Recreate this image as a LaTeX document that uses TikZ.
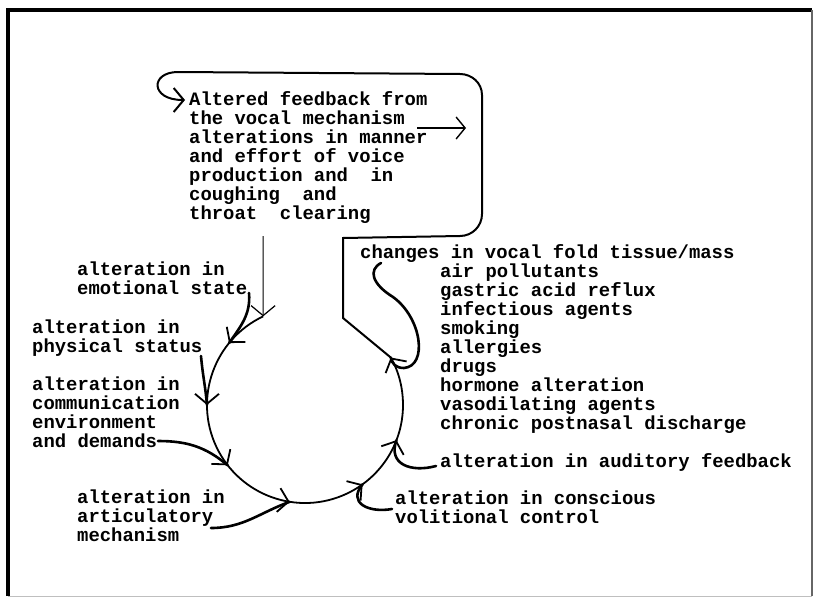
\documentclass[tikz,border=0pt]{standalone}
\usepackage{fontspec}
\newfontfamily\typewriter{Liberation Mono Bold}
\usetikzlibrary{arrows.meta,calc,decorations.markings}

\tikzset{
  barbtip/.tip={Straight Barb[length=10pt,width=24pt]},
  lbl/.style={font=\typewriter\fontsize{18.9}{19}\selectfont, align=left, inner sep=0pt, anchor=base west},
  feed/.style={line width=2.6pt, line cap=round},
  ring/.style={line width=1.8pt, decoration={markings,
      mark=at position 0.0932 with {\arrow{barbtip}},
      mark=at position 0.2364 with {\arrow{barbtip}},
      mark=at position 0.3752 with {\arrow{barbtip}},
      mark=at position 0.5323 with {\arrow{barbtip}},
      mark=at position 0.6967 with {\arrow{barbtip}},
      mark=at position 0.8173 with {\arrow{barbtip}}},
    postaction={decorate}}
}

\begin{document}
\begin{tikzpicture}[x=1pt,y=1pt]
        \useasboundingbox (0,0) rectangle (813,-597);
        % frame
        \draw [line width=4pt] (8,-596) -- (8,-10) -- (812,-10);
        \draw [line width=1.2pt, black!60] (812,-10) -- (812,-596);
        \draw [line width=0.8pt, black!25] (812,-596) -- (8,-596);

        % labels (placed at the baseline of their last line)
        \node [lbl] (feedback) at (189,-219) {Altered feedback from\\the vocal mechanism\\alterations in manner\\and effort of voice\\production and~ in\\coughing~ and\\throat~ clearing};
        \node [lbl] (emotion) at (77,-294) {alteration in\\emotional state};
        \node [lbl] (physical) at (32,-352) {alteration in\\physical status};
        \node [lbl] (environ) at (32,-447) {alteration in\\communication\\environment\\and demands};
        \node [lbl] (artic) at (77,-541) {alteration in\\articulatory\\mechanism};
        \node [lbl] (tissue) at (360,-258) {changes in vocal fold tissue/mass};
        \node [lbl] (causes) at (440,-429) {air pollutants\\gastric acid reflux\\infectious agents\\smoking\\allergies\\drugs\\hormone alteration\\vasodilating agents\\chronic postnasal discharge};
        \node [lbl] (auditory) at (440,-467) {alteration in auditory feedback};
        \node [lbl] (volition) at (395,-523) {alteration in conscious\\volitional control};

        % the circle
        \coordinate (c) at (305,-405);
        \coordinate (a0) at ($(c)+(115.3:98)$);
        \coordinate (a1) at ($(c)+(140.8:98)$);
        \coordinate (a2) at ($(c)+(180:98)$);
        \coordinate (a3) at ($(c)+(218:98)$);
        \coordinate (a4) at ($(c)+(261:98)$);
        \coordinate (a5) at ($(c)+(306:98)$);
        \coordinate (a6) at ($(c)+(339:98)$);
        \coordinate (a7) at ($(c)+(29:98)$);
        \draw [ring, -barbtip] (a0) arc [start angle=115.3, end angle=389, radius=98];

        % box outline back to the feedback text
        \coordinate (hook) at (185,-100);
        \draw [line width=2pt, -barbtip] (a7) -- (343,-318) -- (343,-238) -- (460,-236)
              to[out=0,in=-90] (482,-214) -- (482,-95) to[out=90,in=0] (460,-74)
              -- (178,-72) .. controls (150,-72) and (150,-100) .. (hook);
        \coordinate (flowa) at (417,-128);
        \coordinate (flowb) at (466,-128);
        \draw [line width=1.4pt, -{Straight Barb[length=9pt,width=22pt]}] (flowa) -- (flowb);
        \coordinate (drop) at (263.1,-236);
        \draw [line width=1.2pt, -barbtip] (drop) -- (a0);

        % influences joining the circle
        \coordinate (emoend) at (249,-293);
        \coordinate (physend) at (201,-356);
        \coordinate (envend) at (158,-441);
        \coordinate (articend) at (211,-528);
        \coordinate (volend) at (392,-509);
        \coordinate (audend) at (436,-466);
        \coordinate (tissend) at (381,-263);
        \draw [feed] (emoend) to[out=-85,in=55] (a1);
        \draw [feed] (physend) to[out=-85,in=95] (a2);
        \draw [feed] (envend) to[out=0,in=140] (a3);
        \draw [feed] (articend) to[out=0,in=200] (a4);
        \draw [feed] (volend) to[out=190,in=230,looseness=1.6] (a5);
        \draw [feed] (audend) to[out=195,in=250,looseness=1.4] (a6);
        \draw [feed] (tissend) .. controls (368,-270) and (372,-284) .. (393,-297)
              .. controls (422,-318) and (428,-366) .. (404,-368)
              .. controls (396,-368) and (392,-364) .. (a7);
\end{tikzpicture}
\end{document}
